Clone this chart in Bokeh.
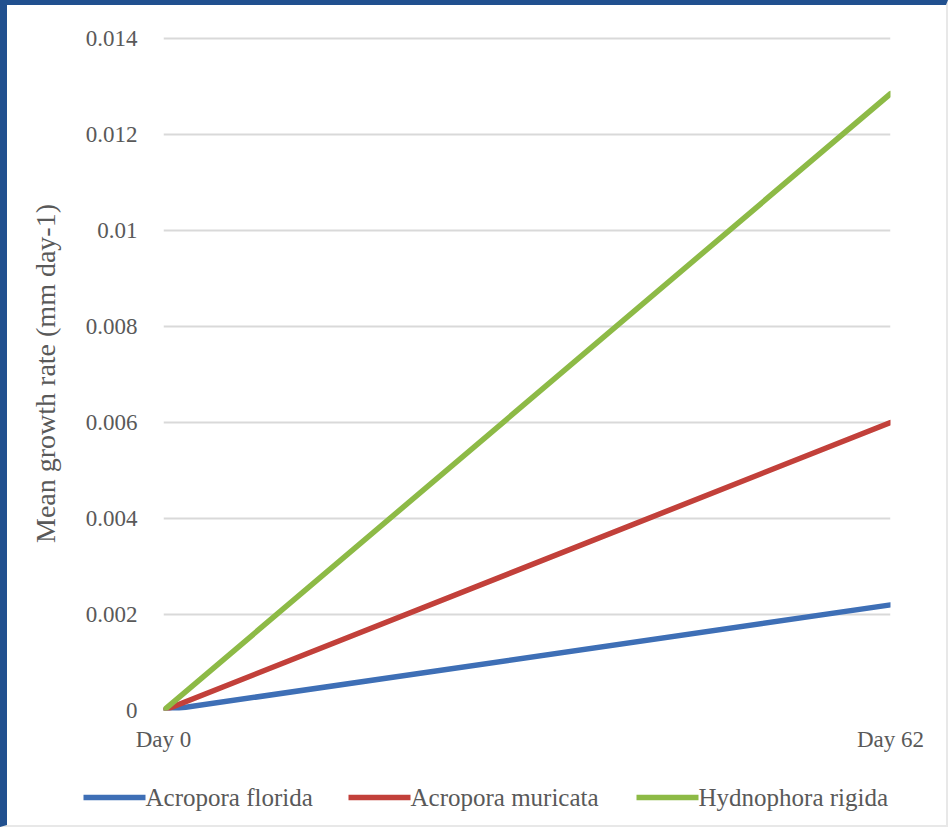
from bokeh.plotting import figure
from bokeh.models import Range1d, FixedTicker
from bokeh.core.properties import value
from bokeh.layouts import column
from bokeh.embed import file_html
from bokeh.resources import INLINE

# Mean growth rate per species at the two measurement days
days = [0, 62]
day_labels = ["Day 0", "Day 62"]
acropora_florida = [0.0, 0.0022]
acropora_muricata = [0.0, 0.0060]
hydnophora_rigida = [0.0, 0.01285]
y_ticks = [0, 0.002, 0.004, 0.006, 0.008, 0.01, 0.012, 0.014]
y_tick_labels = ["0", "0.002", "0.004", "0.006", "0.008", "0.01", "0.012", "0.014"]

FONT = "Liberation Serif"
TEXT = "#595959"

species = ["Acropora florida", "Acropora muricata", "Hydnophora rigida"]
colors = ["#3E6FB6", "#C2403A", "#8DBA46"]
values = [acropora_florida, acropora_muricata, hydnophora_rigida]

W = 939
MAIN_H = 770
LEG_H = 50
Y_TOP = 0.014 * (1 + 2 / 672)  # small headroom so the top gridline is not clipped

p = figure(width=W, height=MAIN_H, output_backend="svg", toolbar_location=None,
           x_range=Range1d(0, 62), y_range=Range1d(0, Y_TOP),
           min_border_left=156, min_border_right=W - 883, min_border_top=31,
           min_border_bottom=MAIN_H - 705, frame_align=False)
p.background_fill_color = "white"
p.border_fill_color = "white"
p.outline_line_color = None

for vals, color in zip(values, colors):
    p.line(days, vals, line_color=color, line_width=5.5, line_cap="round")

# y axis
p.yaxis.ticker = FixedTicker(ticks=y_ticks)
p.yaxis.major_label_overrides = {t: l for t, l in zip(y_ticks, y_tick_labels)}
p.yaxis.axis_line_color = None
p.yaxis.major_tick_line_color = None
p.yaxis.minor_tick_line_color = None
p.yaxis.major_label_text_font = FONT
p.yaxis.major_label_text_font_size = "23px"
p.yaxis.major_label_text_color = TEXT
p.yaxis.major_label_standoff = 20
p.yaxis.axis_label = "Mean growth rate (mm day-1)"
p.yaxis.axis_label_text_font = FONT
p.yaxis.axis_label_text_font_size = "28px"
p.yaxis.axis_label_text_font_style = "normal"
p.yaxis.axis_label_text_color = TEXT
p.yaxis.axis_label_standoff = 22

# x axis
p.xaxis.ticker = FixedTicker(ticks=days)
p.xaxis.major_label_overrides = {d: l for d, l in zip(days, day_labels)}
p.xaxis.axis_line_color = None
p.xaxis.major_tick_line_color = None
p.xaxis.minor_tick_line_color = None
p.xaxis.major_label_text_font = FONT
p.xaxis.major_label_text_font_size = "23px"
p.xaxis.major_label_text_color = TEXT
p.xaxis.major_label_standoff = 10

p.xgrid.visible = False
p.ygrid.grid_line_color = "#D9D9D9"
p.ygrid.grid_line_width = 2

# legend strip underneath the chart, laid out in pixel units
leg = figure(width=W, height=LEG_H, output_backend="svg", toolbar_location=None,
             x_range=Range1d(0, W), y_range=Range1d(0, LEG_H),
             min_border_left=0, min_border_right=0, min_border_top=0, min_border_bottom=0,
             outline_line_color=None, frame_align=False)
leg.axis.visible = False
leg.grid.visible = False
leg.background_fill_color = "white"
leg.border_fill_color = "white"

key_start = [76, 341, 629]
key_len = 62
key_y = 28
leg.segment(x0=key_start, y0=[key_y] * 3, x1=[x + key_len for x in key_start], y1=[key_y] * 3,
            line_color=colors, line_width=5.5)
leg.text(x=[x + key_len for x in key_start], y=[key_y] * 3, text=species,
         text_font=value(FONT), text_font_size="25px", text_color=TEXT,
         text_align="left", text_baseline="middle")

layout = column(p, leg, spacing=0,
                styles={"border-left": "7px solid #21508F", "border-top": "5px solid #21508F",
                        "border-right": "2px solid #E8E8E8", "border-bottom": "2px solid #E8E8E8"})

open("out.html", "w").write(file_html(layout, INLINE))
